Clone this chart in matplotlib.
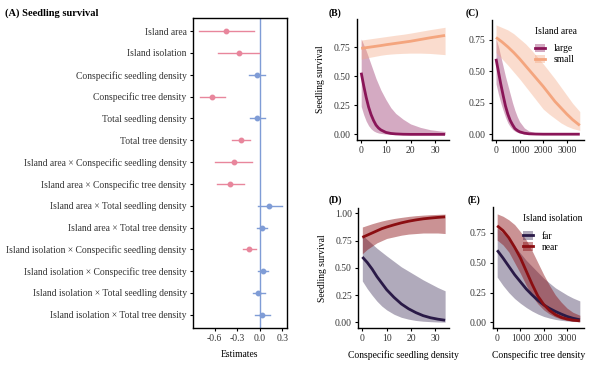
import matplotlib
matplotlib.use("Agg")
import matplotlib.pyplot as plt
from matplotlib.patches import Patch
from matplotlib.lines import Line2D
import numpy as np

plt.rcParams['font.family'] = ['Liberation Serif', 'DejaVu Serif']
plt.rcParams['font.size'] = 6.9

# ---- panel A: model estimates ----
terms = ["Island area", "Island isolation", "Conspecific seedling density",
         "Conspecific tree density", "Total seedling density", "Total tree density",
         "Island area \u00d7 Conspecific seedling density",
         "Island area \u00d7 Conspecific tree density",
         "Island area \u00d7 Total seedling density",
         "Island area \u00d7 Total tree density",
         "Island isolation \u00d7 Conspecific seedling density",
         "Island isolation \u00d7 Conspecific tree density",
         "Island isolation \u00d7 Total seedling density",
         "Island isolation \u00d7 Total tree density"]
est = [-0.45, -0.28, -0.04, -0.64, -0.04, -0.25, -0.34, -0.40, 0.12, 0.03, -0.14, 0.04, -0.02, 0.03]
ci_lo = [-0.81, -0.55, -0.14, -0.79, -0.13, -0.37, -0.60, -0.57, -0.02, -0.04, -0.22, -0.03, -0.09, -0.06]
ci_hi = [-0.08, -0.01, 0.07, -0.46, 0.07, -0.13, -0.10, -0.21, 0.30, 0.10, -0.05, 0.11, 0.07, 0.13]
signif = [1, 1, 0, 1, 0, 1, 1, 1, 0, 0, 1, 0, 0, 0]

# ---- panel B: survival vs conspecific seedling density, by island area ----
b_x = [0, 1, 2, 3, 4, 5, 6, 7, 8, 10, 12, 14, 17, 20, 24, 28, 31, 34]
b_large = [0.53, 0.42, 0.32, 0.235, 0.17, 0.12, 0.08, 0.055, 0.038, 0.017, 0.008, 0.004, 0.001,
           0.0, 0.0, 0.0, 0.0, 0.0]
b_large_hi = [0.82, 0.77, 0.72, 0.66, 0.60, 0.54, 0.48, 0.43, 0.38, 0.30, 0.23, 0.18, 0.13,
              0.09, 0.06, 0.04, 0.032, 0.025]
b_large_lo = [0.24, 0.17, 0.115, 0.075, 0.048, 0.03, 0.019, 0.012, 0.008, 0.003, 0.001, 0.0, 0.0,
              0.0, 0.0, 0.0, 0.0, 0.0]
b_small = [0.74, 0.742, 0.745, 0.748, 0.751, 0.754, 0.757, 0.76, 0.763, 0.77, 0.776, 0.782, 0.791,
           0.80, 0.815, 0.83, 0.84, 0.85]
b_small_hi = [0.81, 0.813, 0.816, 0.819, 0.822, 0.825, 0.828, 0.831, 0.834, 0.84, 0.846, 0.852, 0.86,
              0.87, 0.885, 0.90, 0.91, 0.92]
b_small_lo = [0.645, 0.65, 0.655, 0.66, 0.664, 0.668, 0.672, 0.676, 0.68, 0.686, 0.69, 0.693, 0.696,
              0.698, 0.698, 0.695, 0.69, 0.685]

# ---- panel C: survival vs conspecific tree density, by island area ----
c_x_large = [0, 100, 200, 300, 400, 500, 600, 700, 800, 900, 1000, 1200, 1400, 1700, 2000, 2500,
             3000, 3550]
c_large = [0.60, 0.50, 0.40, 0.31, 0.225, 0.16, 0.11, 0.075, 0.045, 0.03, 0.019, 0.008, 0.003,
           0.001, 0.0, 0.0, 0.0, 0.0]
c_large_hi = [0.76, 0.70, 0.62, 0.54, 0.46, 0.39, 0.32, 0.25, 0.19, 0.14, 0.10, 0.05, 0.025,
              0.01, 0.004, 0.001, 0.0, 0.0]
c_large_lo = [0.40, 0.32, 0.25, 0.19, 0.135, 0.09, 0.06, 0.038, 0.024, 0.015, 0.009, 0.003, 0.001,
              0.0, 0.0, 0.0, 0.0, 0.0]
c_x_small = [0, 250, 500, 750, 1000, 1250, 1500, 1750, 2000, 2250, 2500, 2750, 3000, 3250, 3550]
c_small = [0.77, 0.735, 0.695, 0.65, 0.60, 0.545, 0.49, 0.435, 0.38, 0.32, 0.26, 0.21, 0.16,
           0.115, 0.07]
c_small_hi = [0.87, 0.85, 0.83, 0.80, 0.76, 0.72, 0.67, 0.615, 0.56, 0.50, 0.44, 0.375, 0.31,
              0.245, 0.18]
c_small_lo = [0.65, 0.60, 0.55, 0.495, 0.44, 0.38, 0.32, 0.26, 0.20, 0.16, 0.125, 0.09, 0.064,
              0.045, 0.03]

# ---- panel D: survival vs conspecific seedling density, by isolation ----
d_x = [0, 2, 4, 6, 8, 10, 13, 16, 19, 22, 25, 28, 31, 34]
d_far = [0.60, 0.55, 0.49, 0.42, 0.36, 0.30, 0.23, 0.17, 0.125, 0.09, 0.062, 0.043, 0.03, 0.02]
d_far_hi = [0.80, 0.76, 0.72, 0.68, 0.645, 0.61, 0.56, 0.51, 0.47, 0.43, 0.39, 0.355, 0.32, 0.29]
d_far_lo = [0.38, 0.31, 0.25, 0.195, 0.15, 0.115, 0.075, 0.047, 0.03, 0.018, 0.011, 0.007, 0.004,
            0.003]
d_near = [0.78, 0.80, 0.82, 0.84, 0.86, 0.875, 0.895, 0.913, 0.928, 0.94, 0.95, 0.957, 0.963, 0.968]
d_near_hi = [0.875, 0.89, 0.905, 0.918, 0.93, 0.94, 0.953, 0.963, 0.972, 0.979, 0.984, 0.988,
             0.991, 0.993]
d_near_lo = [0.63, 0.67, 0.70, 0.73, 0.75, 0.77, 0.785, 0.80, 0.81, 0.815, 0.82, 0.82, 0.82, 0.815]

# ---- panel E: survival vs conspecific tree density, by isolation ----
e_x = [0, 250, 500, 750, 1000, 1250, 1500, 1750, 2000, 2250, 2500, 2750, 3000, 3250, 3550]
e_far = [0.605, 0.54, 0.47, 0.40, 0.34, 0.28, 0.23, 0.185, 0.147, 0.117, 0.092, 0.07, 0.05, 0.035,
         0.022]
e_far_hi = [0.79, 0.75, 0.70, 0.64, 0.58, 0.52, 0.47, 0.42, 0.37, 0.33, 0.29, 0.26, 0.23, 0.205,
            0.18]
e_far_lo = [0.38, 0.31, 0.25, 0.20, 0.16, 0.125, 0.095, 0.07, 0.05, 0.036, 0.025, 0.017, 0.012,
            0.008, 0.005]
e_near = [0.81, 0.77, 0.71, 0.63, 0.54, 0.43, 0.32, 0.22, 0.15, 0.10, 0.065, 0.042, 0.028, 0.019,
          0.013]
e_near_hi = [0.91, 0.89, 0.86, 0.82, 0.76, 0.69, 0.60, 0.50, 0.40, 0.31, 0.23, 0.17, 0.12, 0.085,
             0.06]
e_near_lo = [0.69, 0.65, 0.59, 0.50, 0.41, 0.31, 0.22, 0.155, 0.105, 0.07, 0.045, 0.028, 0.017,
             0.01, 0.006]

PINK = "#E8869C"
BLUE = "#7F9CD6"
LARGE = "#8A1558"
SMALL = "#F4A57E"
FAR = "#2A1A47"
NEAR = "#8B0E12"
ALPHA = {LARGE: 0.36, SMALL: 0.38, FAR: 0.37, NEAR: 0.45}

fig = plt.figure(figsize=(5.99, 3.68), dpi=100)


def style_classic(ax):
    for s in ["top", "right"]:
        ax.spines[s].set_visible(False)
    for s in ["left", "bottom"]:
        ax.spines[s].set_linewidth(1.0)
    ax.tick_params(length=2.5, width=0.8, pad=2, labelsize=6.9, colors="#333333")
    ax.tick_params(axis="both", color="black")


# panel A
axA = fig.add_axes([0.322, 0.109, 0.157, 0.842])
ypos = np.arange(1, len(terms) + 1)
for i in range(len(terms)):
    col = PINK if signif[i] else BLUE
    axA.plot([ci_lo[i], ci_hi[i]], [ypos[i], ypos[i]], color=col, lw=1.0)
    axA.plot(est[i], ypos[i], "o", color=col, ms=3.2)
axA.axvline(0, color=BLUE, lw=1.0, zorder=0)
axA.set_ylim(len(terms) + 0.6, 0.4)
axA.set_xlim(-0.89, 0.36)
axA.set_yticks(ypos)
axA.set_yticklabels(terms)
axA.set_xticks([-0.6, -0.3, 0.0, 0.3])
axA.set_xticklabels(["-0.6", "-0.3", "0.0", "0.3"])
axA.tick_params(length=2.5, width=0.8, pad=2, labelsize=6.9, colors="#333333")
axA.tick_params(color="black")
for s in axA.spines.values():
    s.set_linewidth(1.0)
axA.set_xlabel("Estimates", labelpad=5)
fig.text(0.008, 0.965, "(A) Seedling survival", fontsize=7.5, fontweight="bold", va="center")


def band_panel(ax, groups):
    for x, mean, lo, hi, col in groups:
        ax.fill_between(x, lo, hi, color=col, alpha=ALPHA[col], lw=0)
    for x, mean, lo, hi, col in groups:
        ax.plot(x, mean, color=col, lw=2.0, solid_capstyle="butt")
    style_classic(ax)


def key_legend(ax, cols, labels, title, anchor):
    h = [(Patch(facecolor=c, alpha=ALPHA[c], lw=0), Line2D([], [], color=c, lw=2)) for c in cols]
    lg = ax.legend(h, labels, title=title, loc="upper right", bbox_to_anchor=anchor,
                   frameon=False, fontsize=6.9, title_fontsize=6.9, handlelength=1.0,
                   handleheight=1.0, handletextpad=0.9, labelspacing=0.15, borderpad=0.2)
    lg._legend_box.align = "left"
    lg._legend_box.sep = 6
    return lg


# panel B
axB = fig.add_axes([0.596, 0.620, 0.154, 0.328])
band_panel(axB, [(b_x, b_large, b_large_lo, b_large_hi, LARGE),
                 (b_x, b_small, b_small_lo, b_small_hi, SMALL)])
axB.set_xlim(-1.7, 35.7)
axB.set_ylim(-0.047, 0.99)
axB.set_yticks([0, 0.25, 0.5, 0.75])
axB.set_yticklabels(["0.00", "0.25", "0.50", "0.75"])
axB.set_xticks([0, 10, 20, 30])
axB.set_ylabel("Seedling survival", labelpad=6)
fig.text(0.548, 0.965, "(B)", fontsize=7, fontweight="bold", va="center")

# panel C
axC = fig.add_axes([0.821, 0.620, 0.154, 0.326])
band_panel(axC, [(c_x_large, c_large, c_large_lo, c_large_hi, LARGE),
                 (c_x_small, c_small, c_small_lo, c_small_hi, SMALL)])
axC.set_xlim(-180, 3730)
axC.set_ylim(-0.045, 0.91)
axC.set_yticks([0, 0.25, 0.5, 0.75])
axC.set_yticklabels(["0.00", "0.25", "0.50", "0.75"])
axC.set_xticks([0, 1000, 2000, 3000])
fig.text(0.778, 0.965, "(C)", fontsize=7, fontweight="bold", va="center")
key_legend(axC, [LARGE, SMALL], ["large", "small"], "Island area", (1.0, 1.0))

# panel D
axD = fig.add_axes([0.598, 0.109, 0.152, 0.326])
band_panel(axD, [(d_x, d_far, d_far_lo, d_far_hi, FAR),
                 (d_x, d_near, d_near_lo, d_near_hi, NEAR)])
axD.set_xlim(-1.7, 35.7)
axD.set_ylim(-0.05, 1.05)
axD.set_yticks([0, 0.25, 0.5, 0.75, 1.0])
axD.set_yticklabels(["0.00", "0.25", "0.50", "0.75", "1.00"])
axD.set_xticks([0, 10, 20, 30])
axD.set_ylabel("Seedling survival", labelpad=6)
axD.set_xlabel("Conspecific seedling density", labelpad=5)
fig.text(0.548, 0.455, "(D)", fontsize=7, fontweight="bold", va="center")

# panel E
axE = fig.add_axes([0.823, 0.109, 0.152, 0.328])
band_panel(axE, [(e_x, e_far, e_far_lo, e_far_hi, FAR),
                 (e_x, e_near, e_near_lo, e_near_hi, NEAR)])
axE.set_xlim(-180, 3730)
axE.set_ylim(-0.046, 0.966)
axE.set_yticks([0, 0.25, 0.5, 0.75])
axE.set_yticklabels(["0.00", "0.25", "0.50", "0.75"])
axE.set_xticks([0, 1000, 2000, 3000])
axE.set_xlabel("Conspecific tree density", labelpad=5)
fig.text(0.780, 0.455, "(E)", fontsize=7, fontweight="bold", va="center")
key_legend(axE, [FAR, NEAR], ["far", "near"], "Island isolation", (1.06, 1.0))

fig.savefig("out.png", dpi=100)
